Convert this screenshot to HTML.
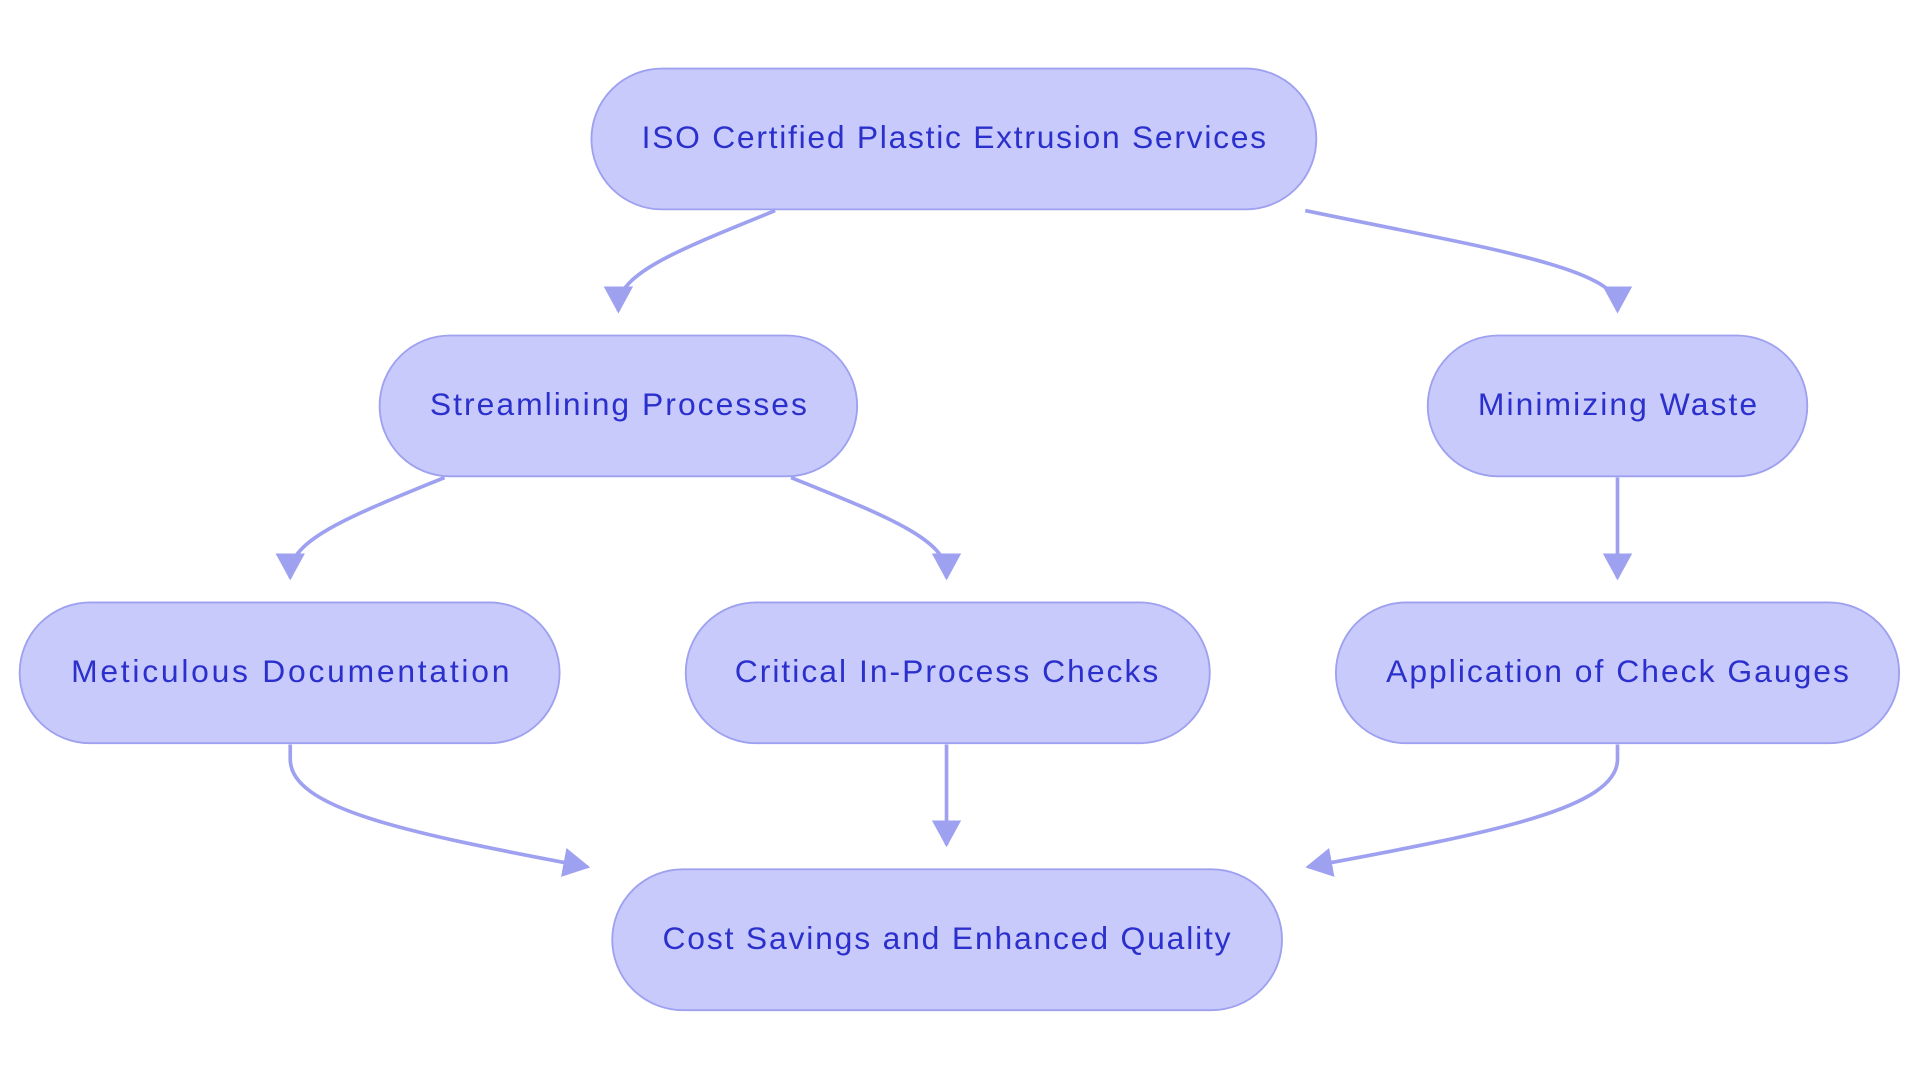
<!DOCTYPE html>
<html><head><meta charset="utf-8"><style>html,body{margin:0;padding:0;background:#fff}svg{display:block}</style></head>
<body>
<svg width="1920" height="1083" viewBox="0 0 1568 884.5" xmlns="http://www.w3.org/2000/svg">
<defs>
<marker id="a" markerUnits="userSpaceOnUse" markerWidth="24" markerHeight="24" refX="20" refY="12" orient="auto">
<path d="M0,0 L22,12 L0,24 Z" fill="#9ea0f0"/>
</marker>
</defs>
<g fill="none" stroke="#9ea0f0" stroke-width="3">
<path d="M633,172 C560,202 505,222 505,250 L505,254" marker-end="url(#a)"/>
<path d="M1066,172 C1200,200 1321,218 1321,250 L1321,254" marker-end="url(#a)"/>
<path d="M363,390 C290,420 237,440 237,468 L237,472" marker-end="url(#a)"/>
<path d="M646,390 C720,420 773,440 773,468 L773,472" marker-end="url(#a)"/>
<path d="M1321,390 L1321,472" marker-end="url(#a)"/>
<path d="M237,608 L237,620 C237,660 330,680 480,708" marker-end="url(#a)"/>
<path d="M773,608 L773,690" marker-end="url(#a)"/>
<path d="M1321,608 L1321,620 C1321,660 1220,680 1068,708" marker-end="url(#a)"/>
</g>
<g fill="#c8cafc" stroke="#9ea0f0" stroke-width="1.5">
<rect x="483" y="56" width="592" height="115" rx="57.5"/>
<rect x="310" y="274" width="390" height="115" rx="57.5"/>
<rect x="1166" y="274" width="310" height="115" rx="57.5"/>
<rect x="16" y="492" width="441" height="115" rx="57.5"/>
<rect x="560" y="492" width="428" height="115" rx="57.5"/>
<rect x="1091" y="492" width="460" height="115" rx="57.5"/>
<rect x="500" y="710" width="547" height="115" rx="57.5"/>
</g>
<g font-family="'Liberation Sans', sans-serif" font-size="26" fill="#2b30cc" text-anchor="middle" dominant-baseline="central">
<text x="779" y="112" textLength="510">ISO Certified Plastic Extrusion Services</text>
<text x="505" y="330" textLength="308">Streamlining Processes</text>
<text x="1321" y="330" textLength="228">Minimizing Waste</text>
<text x="237" y="548" textLength="358">Meticulous Documentation</text>
<text x="773" y="548" textLength="346">Critical In-Process Checks</text>
<text x="1321" y="548" textLength="378">Application of Check Gauges</text>
<text x="773" y="766" textLength="464">Cost Savings and Enhanced Quality</text>
</g>
</svg>
</body></html>
